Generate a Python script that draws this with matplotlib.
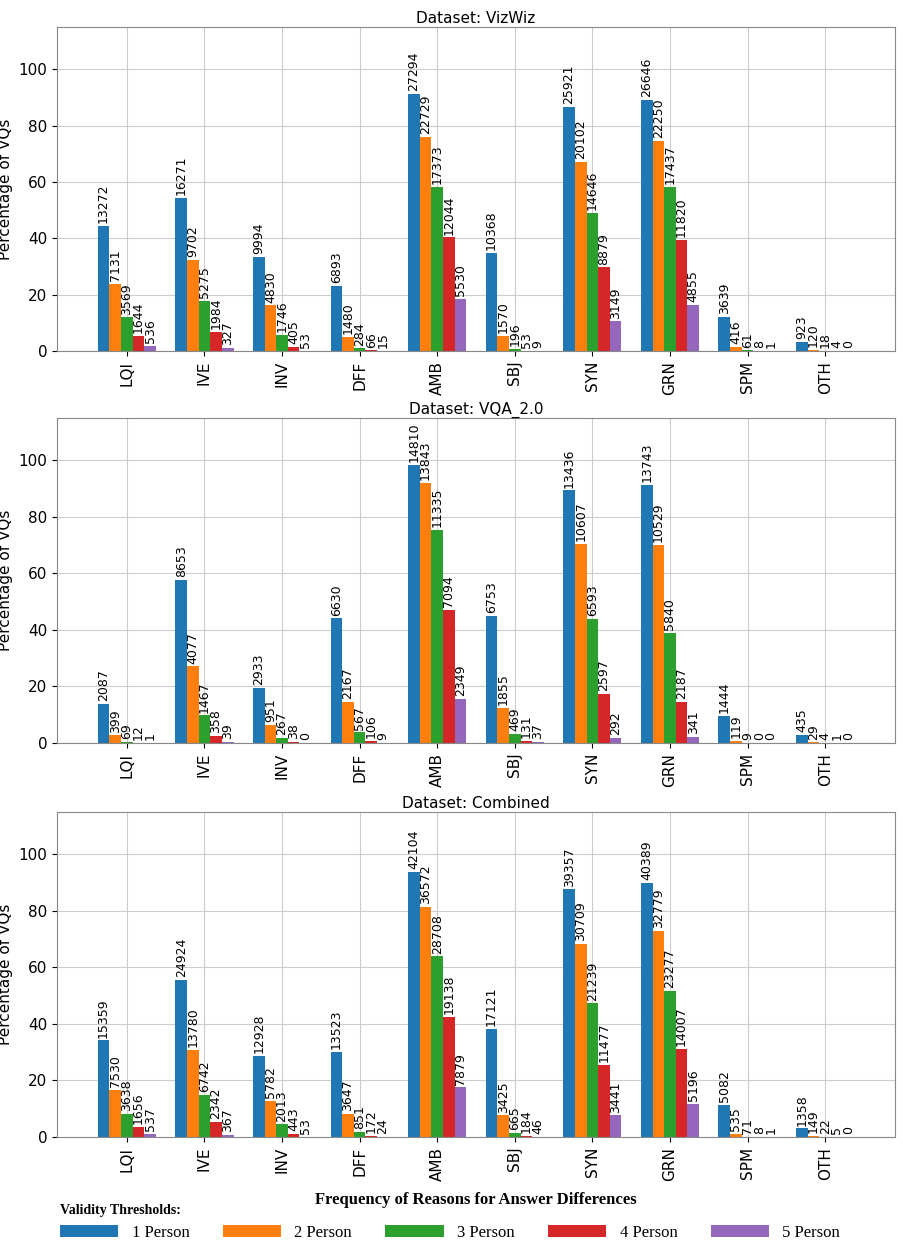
import matplotlib
matplotlib.use("Agg")
import matplotlib.pyplot as plt
import numpy as np

reasons = ["LQI","IVE","INV","DFF","AMB","SBJ","SYN","GRN","SPM","OTH"]
thresholds = ["1 Person","2 Person","3 Person","4 Person","5 Person"]
colors = ["#1f77b4","#ff7f0e","#2ca02c","#d62728","#9467bd"]

vizwiz = [
    [13272,16271,9994,6893,27294,10368,25921,26646,3639,923],
    [7131,9702,4830,1480,22729,1570,20102,22250,416,120],
    [3569,5275,1746,284,17373,196,14646,17437,61,18],
    [1644,1984,405,66,12044,53,8879,11820,8,4],
    [536,327,53,15,5530,9,3149,4855,1,0],
]
vqa = [
    [2087,8653,2933,6630,14810,6753,13436,13743,1444,435],
    [399,4077,951,2167,13843,1855,10607,10529,119,29],
    [69,1467,267,567,11335,469,6593,5840,9,4],
    [12,358,38,106,7094,131,2597,2187,0,1],
    [1,39,0,9,2349,37,292,341,0,0],
]
combined = [
    [15359,24924,12928,13523,42104,17121,39357,40389,5082,1358],
    [7530,13780,5782,3647,36572,3425,30709,32779,535,149],
    [3638,6742,2013,851,28708,665,21239,23277,71,22],
    [1656,2342,443,172,19138,184,11477,14007,8,5],
    [537,367,53,24,7879,46,3441,5196,1,0],
]
totals = {"VizWiz": 29894, "VQA_2.0": 15030, "Combined": 44924}
datasets = [("VizWiz", vizwiz), ("VQA_2.0", vqa), ("Combined", combined)]

fig = plt.figure(figsize=(9.04, 12.51), dpi=100)
W, H = 904, 1251
boxes = [(27, 351), (418, 743), (812, 1137)]
x = np.arange(len(reasons))
bw = 0.15
handles = []
for (name, counts), (top, bot) in zip(datasets, boxes):
    ax = fig.add_axes([57/W, 1-bot/H, (895-57)/W, (bot-top)/H])
    ax.set_axisbelow(True)
    ax.grid(True, color="#cccccc", linewidth=0.8)
    for i, c in enumerate(counts):
        pct = np.array(c) / totals[name] * 100
        bars = ax.bar(x + (i-2)*bw, pct, bw, color=colors[i], label=thresholds[i])
        if name == "VizWiz":
            handles.append(bars)
        for xi, p, v in zip(x + (i-2)*bw, pct, c):
            ax.text(xi, p + 1, str(v), rotation=90, ha="center", va="bottom", fontsize=9)
    ax.set_xlim(-0.9, 9.9)
    ax.set_ylim(0, 115)
    ax.set_yticks(range(0, 101, 20))
    ax.set_xticks(x)
    ax.set_xticklabels(reasons, rotation=90, fontsize=11)
    ax.tick_params(axis="y", labelsize=11)
    ax.set_ylabel("Percentage of VQs", fontsize=11)
    ax.set_title("Dataset: " + name, fontsize=11, pad=3)
    for s in ax.spines.values():
        s.set_color("#888888")
ax.set_xlabel("Frequency of Reasons for Answer Differences", fontsize=12,
              fontweight="bold", family="Liberation Serif", labelpad=8)
leg = fig.legend(handles=handles, labels=thresholds, loc="lower left",
                 bbox_to_anchor=(50/W, 0.0), ncol=5, frameon=False,
                 prop={"family": "Liberation Serif", "size": 12},
                 title="Validity Thresholds:", handlelength=3.5, columnspacing=2.0,
                 borderaxespad=0.2)
leg.get_title().set_fontweight("bold")
leg.get_title().set_family("Liberation Serif")
leg.get_title().set_fontsize(10)
leg._legend_box.align = "left"
fig.savefig("out.png", dpi=100)
